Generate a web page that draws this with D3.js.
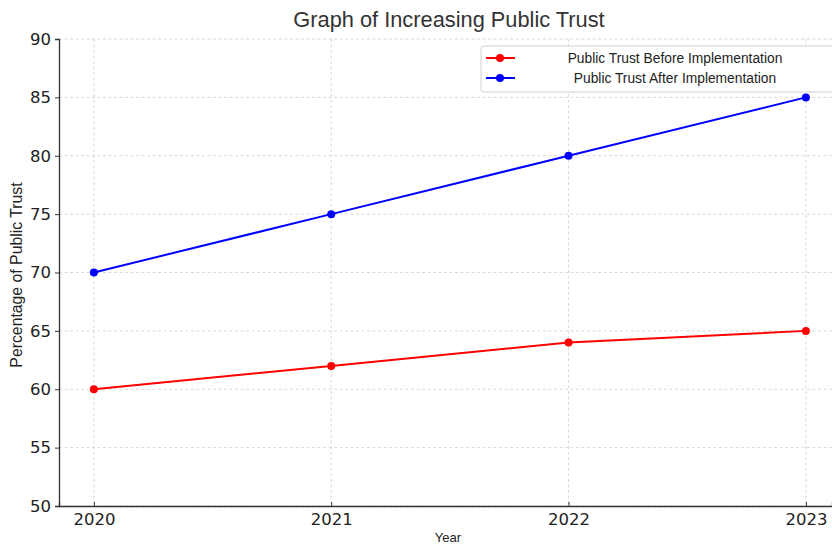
<!DOCTYPE html>
<html>
<head>
<meta charset="utf-8">
<script src="https://cdn.jsdelivr.net/npm/d3@7"></script>
<style>
  body { margin: 0; background: #fff; }
</style>
</head>
<body>
<div id="svg-container"></div>
<script>
const years = [2020, 2021, 2022, 2023]
const trustBefore = [60, 62, 64, 65]
const trustAfter = [70, 75, 80, 85]
const yTicks = [50, 55, 60, 65, 70, 75, 80, 85, 90]

const series = [
  { name: "Public Trust Before Implementation", color: "#ff0000", values: trustBefore },
  { name: "Public Trust After Implementation", color: "#0000ff", values: trustAfter }
]

const width = 832, height = 544
const svg = d3.select("#svg-container")
  .append("svg")
    .attr("width", width)
    .attr("height", height)

const xScale = d3.scaleLinear()
  .domain([2019.853, 2023.11])
  .range([59, 832])

const yScale = d3.scaleLinear()
  .domain([50, 90])
  .range([506, 39])

// grid
svg.append("g")
  .selectAll("line")
  .data(yTicks)
  .join("line")
    .attr("x1", 59)
    .attr("x2", 832)
    .attr("y1", d => yScale(d))
    .attr("y2", d => yScale(d))
    .attr("stroke", "#cfcfcf")
    .attr("stroke-width", 0.8)
    .attr("stroke-dasharray", "3,2.5")

svg.append("g")
  .selectAll("line")
  .data(years)
  .join("line")
    .attr("x1", d => xScale(d))
    .attr("x2", d => xScale(d))
    .attr("y1", 39)
    .attr("y2", 506)
    .attr("stroke", "#cfcfcf")
    .attr("stroke-width", 0.8)
    .attr("stroke-dasharray", "3,2.5")

// axes
const yAxis = svg.append("g")
  .attr("transform", "translate(59,0)")
  .call(d3.axisLeft(yScale).tickValues(yTicks).tickSize(4).tickPadding(4))
yAxis.select(".domain").attr("stroke", "#333").attr("stroke-width", 1.3)
yAxis.selectAll(".tick line").attr("stroke", "#333")
yAxis.selectAll("text")
  .attr("fill", "#222")
  .style("font-family", "DejaVu Sans")
  .style("font-size", "16.5px")

const xAxis = svg.append("g")
  .attr("transform", "translate(0,506)")
  .call(d3.axisBottom(xScale).tickValues(years).tickFormat(d3.format("d")).tickSize(-4).tickPadding(7))
xAxis.select(".domain").attr("stroke", "#333").attr("stroke-width", 1.3)
xAxis.selectAll(".tick line").attr("stroke", "#333")
xAxis.selectAll("text")
  .attr("fill", "#222")
  .style("font-family", "DejaVu Sans")
  .style("font-size", "16.5px")

// labels
svg.append("text")
  .text("Graph of Increasing Public Trust")
  .attr("x", 449)
  .attr("y", 27)
  .attr("text-anchor", "middle")
  .attr("fill", "#333")
  .style("font-family", "Liberation Sans")
  .style("font-size", "21.8px")

svg.append("text")
  .text("Year")
  .attr("x", 448)
  .attr("y", 542)
  .attr("text-anchor", "middle")
  .attr("fill", "#222")
  .style("font-family", "Liberation Sans")
  .style("font-size", "13px")

svg.append("text")
  .text("Percentage of Public Trust")
  .attr("transform", "translate(22,275) rotate(-90)")
  .attr("text-anchor", "middle")
  .attr("fill", "#222")
  .style("font-family", "Liberation Sans")
  .style("font-size", "15.8px")

// lines
const line = d3.line()
  .x((d, i) => xScale(years[i]))
  .y(d => yScale(d))

series.forEach(s => {
  svg.append("path")
    .datum(s.values)
    .attr("d", line)
    .attr("fill", "none")
    .attr("stroke", s.color)
    .attr("stroke-width", 2)

  svg.append("g")
    .selectAll("circle")
    .data(s.values)
    .join("circle")
      .attr("cx", (d, i) => xScale(years[i]))
      .attr("cy", d => yScale(d))
      .attr("r", 4)
      .attr("fill", s.color)
})

// legend
const legend = svg.append("g")
legend.append("rect")
  .attr("x", 481)
  .attr("y", 46)
  .attr("width", 360)
  .attr("height", 46)
  .attr("rx", 3)
  .attr("fill", "#fff")
  .attr("fill-opacity", 0.85)
  .attr("stroke", "#d0d0d0")

const item = legend.selectAll("g.item")
  .data(series)
  .join("g")
    .attr("class", "item")
    .attr("transform", (d, i) => `translate(0, ${58 + i * 20})`)

item.append("line")
  .attr("x1", 486)
  .attr("x2", 515)
  .attr("y1", 0)
  .attr("y2", 0)
  .attr("stroke", d => d.color)
  .attr("stroke-width", 2)

item.append("circle")
  .attr("cx", 500)
  .attr("cy", 0)
  .attr("r", 4)
  .attr("fill", d => d.color)

item.append("text")
  .text(d => d.name)
  .attr("x", 675)
  .attr("y", 5)
  .attr("text-anchor", "middle")
  .attr("fill", "#222")
  .style("font-family", "Liberation Sans")
  .style("font-size", "13.8px")
</script>
</body>
</html>
